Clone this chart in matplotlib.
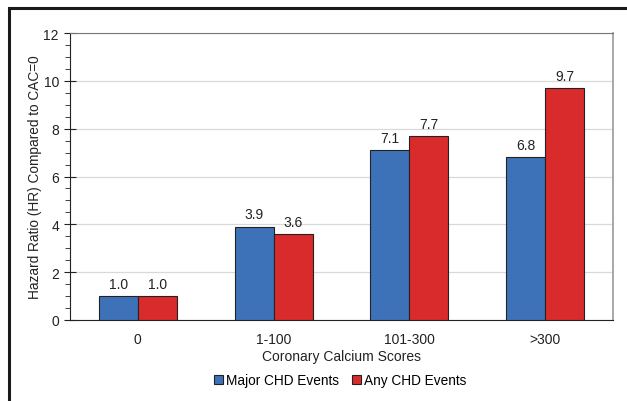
import matplotlib.pyplot as plt
import numpy as np
from matplotlib.ticker import MultipleLocator

plt.rcParams['font.family'] = ['Liberation Sans', 'DejaVu Sans']

categories = ['0', '1-100', '101-300', '>300']
major_chd = [1.0, 3.9, 7.1, 6.8]
any_chd = [1.0, 3.6, 7.7, 9.7]

blue = '#3d72b8'
red = '#d92b2b'

fig = plt.figure(figsize=(6.27, 4.02), dpi=100)
# border (top and left visible as in the source image)
fig.patches.append(plt.Rectangle((9 / 627, -0.1), 1.2, (402 - 9) / 402 + 0.1,
                                 transform=fig.transFigure, fill=False,
                                 edgecolor='#1a1a1a', linewidth=2.2))

ax = fig.add_axes([70 / 627, 1 - 321 / 402, (613 - 70) / 627, (321 - 34) / 402])

x = np.arange(len(categories))
w = 0.287
b1 = ax.bar(x - w / 2, major_chd, w, color=blue, edgecolor='#222222', linewidth=0.8,
            label='Major CHD Events', zorder=3)
b2 = ax.bar(x + w / 2, any_chd, w, color=red, edgecolor='#222222', linewidth=0.8,
            label='Any CHD Events', zorder=3)

for bars in (b1, b2):
    for r in bars:
        ax.text(r.get_x() + r.get_width() / 2, r.get_height() + 0.22,
                f'{r.get_height():.1f}', ha='center', va='bottom', fontsize=10,
                color='#222222')

ax.set_xlim(-0.5, 3.5)
ax.set_ylim(0, 12)
ax.set_xticks(x)
ax.set_xticklabels(categories, fontsize=10, color='#222222')
ax.yaxis.set_major_locator(MultipleLocator(2))
ax.yaxis.set_minor_locator(MultipleLocator(0.5))
ax.tick_params(axis='y', which='major', direction='inout', length=8, labelsize=10,
               colors='#222222', pad=4)
ax.tick_params(axis='y', which='minor', direction='out', length=3.5, color='#222222')
ax.tick_params(axis='x', length=0, pad=9)
ax.grid(axis='y', color='#d9d9d9', linewidth=0.9, zorder=0)

ax.spines['left'].set_color('#222222')
ax.spines['bottom'].set_color('#222222')
ax.spines['top'].set_color('#777777')
ax.spines['right'].set_color('#999999')
ax.spines['right'].set_linewidth(1.2)

ax.set_xlabel('Coronary Calcium Scores', fontsize=10, color='#222222', labelpad=2)
ax.set_ylabel('Hazard Ratio (HR) Compared to CAC=0', fontsize=9.8, color='#222222',
              labelpad=1)

fig.legend(handles=[b1, b2], loc='center', bbox_to_anchor=(340 / 627, 1 - 381 / 402),
           ncol=2, frameon=False, fontsize=9.8, handlelength=0.65, handleheight=0.65,
           handletextpad=0.2, columnspacing=1.0)

fig.savefig('out.png', dpi=100)
